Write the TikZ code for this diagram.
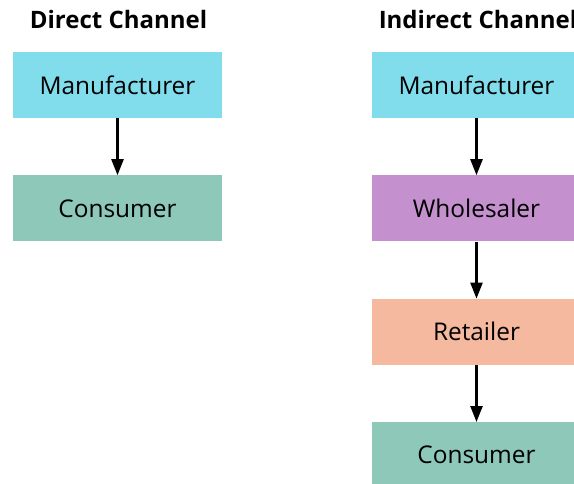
\documentclass[tikz,border=0pt]{standalone}
\usepackage{fontspec}
\setmainfont{Open Sans}
\usepackage{xcolor}
\usepackage{tikz}
\usetikzlibrary{positioning, arrows.meta}
\definecolor{MakerCyan}{HTML}{81DCEC}
\definecolor{BuyerGreen}{HTML}{8DC8B8}
\definecolor{TradePurple}{HTML}{C490CE}
\definecolor{ShopSalmon}{HTML}{F5B9A0}

\begin{document}
\begin{tikzpicture}[x=1pt, y=-1pt, node distance=57pt,
    font=\fontsize{24.4}{28}\selectfont,
    stagebox/.style={minimum width=209pt, minimum height=66pt, inner sep=0pt},
    flow/.style={-{Triangle[length=16pt, width=12pt]}, line width=2.4pt}]
  \useasboundingbox (0,0) rectangle (574,483);
  \clip (0,0) rectangle (574,483);
  % direct channel
  \node[font=\fontsize{24}{28}\selectfont\bfseries] (dtitle) at (118.5,19) {Direct Channel};
  \node[stagebox, fill=MakerCyan] (dmaker) at (117.5,85) {Manufacturer};
  \node[stagebox, fill=BuyerGreen, below=of dmaker] (dbuyer) {Consumer};
  \draw[flow] (dmaker) -- (dbuyer);
  % indirect channel
  \node[font=\fontsize{24}{28}\selectfont\bfseries] (ititle) at (478,19) {Indirect Channel};
  \node[stagebox, fill=MakerCyan] (imaker) at (476.5,85) {Manufacturer};
  \node[stagebox, fill=TradePurple, below=of imaker] (itrade) {Wholesaler};
  \node[stagebox, fill=ShopSalmon, below=of itrade] (ishop) {Retailer};
  \node[stagebox, fill=BuyerGreen, below=of ishop] (ibuyer) {Consumer};
  \draw[flow] (imaker) -- (itrade);
  \draw[flow] (itrade) -- (ishop);
  \draw[flow] (ishop) -- (ibuyer);
\end{tikzpicture}
\end{document}
